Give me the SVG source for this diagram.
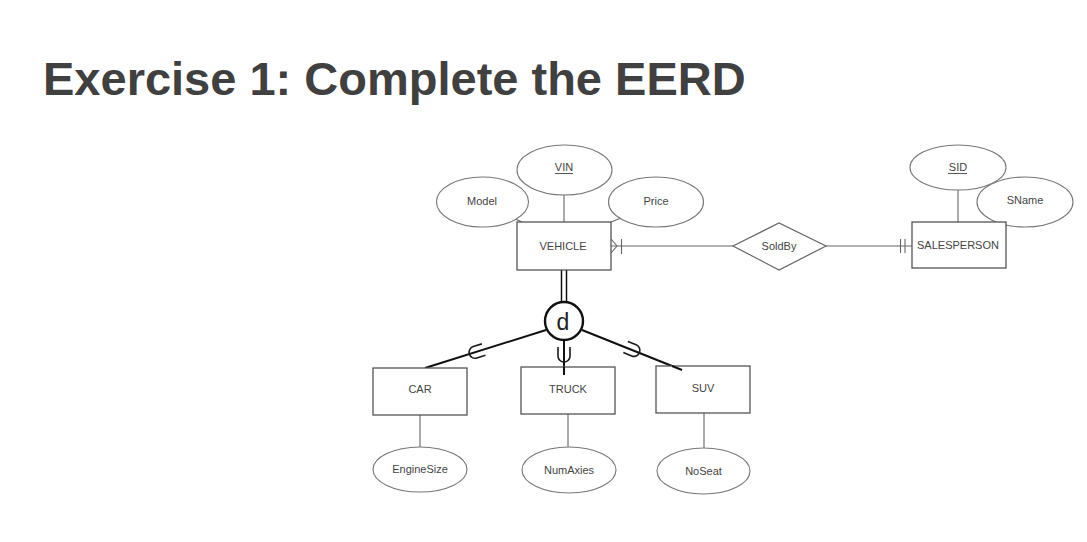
<svg xmlns="http://www.w3.org/2000/svg" width="1087" height="542" viewBox="0 0 1087 542">
<style>
.ent{fill:#fff;stroke:#555;stroke-width:1.3}
.att{fill:#fff;stroke:#777;stroke-width:1.1}
.rel{fill:#fff;stroke:#666;stroke-width:1.2}
.lbl{font-family:"Liberation Sans",Arial,sans-serif;font-size:11px;fill:#444;text-anchor:middle}
.con{stroke:#666;stroke-width:1.1;fill:none}
.blk{stroke:#111;stroke-width:2;fill:none}
.sub{stroke:#1a1a1a;stroke-width:1.6;fill:none}
</style>
<rect width="1087" height="542" fill="#fff"/>
<text x="43" y="95" font-family="'Liberation Sans',Arial,sans-serif" font-size="47" font-weight="bold" fill="#404040">Exercise 1: Complete the EERD</text>

<g id="connectors">
  <line class="con" x1="564" y1="195" x2="564" y2="222"/>
  <line class="con" x1="513" y1="218" x2="522" y2="222"/>
  <line class="con" x1="611" y1="222" x2="621" y2="218"/>
  <line class="con" x1="958" y1="190" x2="958" y2="222"/>
  <line class="con" x1="993" y1="219" x2="998" y2="222"/>
  <line class="con" x1="611" y1="246" x2="733" y2="246"/>
  <polyline class="con" points="611,239 617,246 611,253"/>
  <line class="con" x1="621.5" y1="239" x2="621.5" y2="254"/>
  <line class="con" x1="826" y1="246" x2="912" y2="246"/>
  <line class="con" x1="900.5" y1="239" x2="900.5" y2="253"/>
  <line class="con" x1="905" y1="239" x2="905" y2="253"/>
  <line class="con" x1="420" y1="415" x2="420" y2="447"/>
  <line class="con" x1="568" y1="414" x2="568" y2="447"/>
  <line class="con" x1="704" y1="413" x2="704" y2="448"/>
  <line x1="561.5" y1="270" x2="561.5" y2="302" stroke="#111" stroke-width="1.5"/>
  <line x1="566.5" y1="270" x2="566.5" y2="302" stroke="#111" stroke-width="1.5"/>
  <line class="blk" x1="546" y1="330" x2="425" y2="368"/>
  <line class="blk" x1="564" y1="340" x2="564" y2="375"/>
  <line class="blk" x1="582" y1="330" x2="682" y2="370"/>
  <path class="sub" d="M-6,-8 V1 A6,6 0 0 0 6,1 V-8" transform="translate(476,352) rotate(72.6)"/>
  <path class="sub" d="M-6,-8 V1 A6,6 0 0 0 6,1 V-8" transform="translate(564,355)"/>
  <path class="sub" d="M-6,-8 V1 A6,6 0 0 0 6,1 V-8" transform="translate(633,350) rotate(-68)"/>
</g>

<g id="VIN"><ellipse class="att" cx="564.5" cy="170" rx="47.5" ry="25"/><text class="lbl" x="564" y="171">VIN</text><line x1="555" y1="173.5" x2="573" y2="173.5" stroke="#444" stroke-width="0.9"/></g>
<g id="Model"><ellipse class="att" cx="482.5" cy="202" rx="46" ry="25"/><text class="lbl" x="482" y="205">Model</text></g>
<g id="Price"><ellipse class="att" cx="656" cy="202" rx="47.5" ry="25"/><text class="lbl" x="656" y="205">Price</text></g>
<g id="VEHICLE"><rect class="ent" x="517" y="222" width="94" height="48"/><text class="lbl" x="563" y="250">VEHICLE</text></g>
<g id="SoldBy"><polygon class="rel" points="733,246 779,223 826,246 779,270"/><text class="lbl" x="779" y="250">SoldBy</text></g>
<g id="SID"><ellipse class="att" cx="958" cy="167.5" rx="48" ry="22.5"/><text class="lbl" x="958" y="171">SID</text><line x1="948" y1="173.5" x2="967" y2="173.5" stroke="#444" stroke-width="0.9"/></g>
<g id="SName"><ellipse class="att" cx="1025" cy="202" rx="48" ry="25"/><text class="lbl" x="1025" y="204">SName</text></g>
<g id="SALESPERSON"><rect class="ent" x="912" y="222" width="94" height="46"/><text class="lbl" x="958" y="249">SALESPERSON</text></g>
<g id="disjoint"><circle cx="564" cy="321" r="19" fill="#fff" stroke="#111" stroke-width="2.4"/><text x="563" y="330" font-family="'Liberation Sans',Arial,sans-serif" font-size="23" fill="#222" text-anchor="middle">d</text></g>
<g id="CAR"><rect class="ent" x="373" y="368" width="94" height="47"/><text class="lbl" x="420" y="393">CAR</text></g>
<g id="TRUCK"><rect class="ent" x="521" y="367" width="94" height="47"/><text class="lbl" x="568" y="393">TRUCK</text></g>
<g id="SUV"><rect class="ent" x="656" y="366" width="94" height="47"/><text class="lbl" x="703" y="392">SUV</text></g>
<line class="blk" x1="564" y1="367" x2="564" y2="375"/>
<line class="blk" x1="672" y1="366" x2="682" y2="370"/>
<g id="EngineSize"><ellipse class="att" cx="420" cy="469.5" rx="47" ry="22.5"/><text class="lbl" x="420" y="473">EngineSize</text></g>
<g id="NumAxies"><ellipse class="att" cx="569" cy="470" rx="47" ry="23"/><text class="lbl" x="569" y="474">NumAxies</text></g>
<g id="NoSeat"><ellipse class="att" cx="703.5" cy="471" rx="46.5" ry="23"/><text class="lbl" x="703.5" y="475">NoSeat</text></g>
</svg>
